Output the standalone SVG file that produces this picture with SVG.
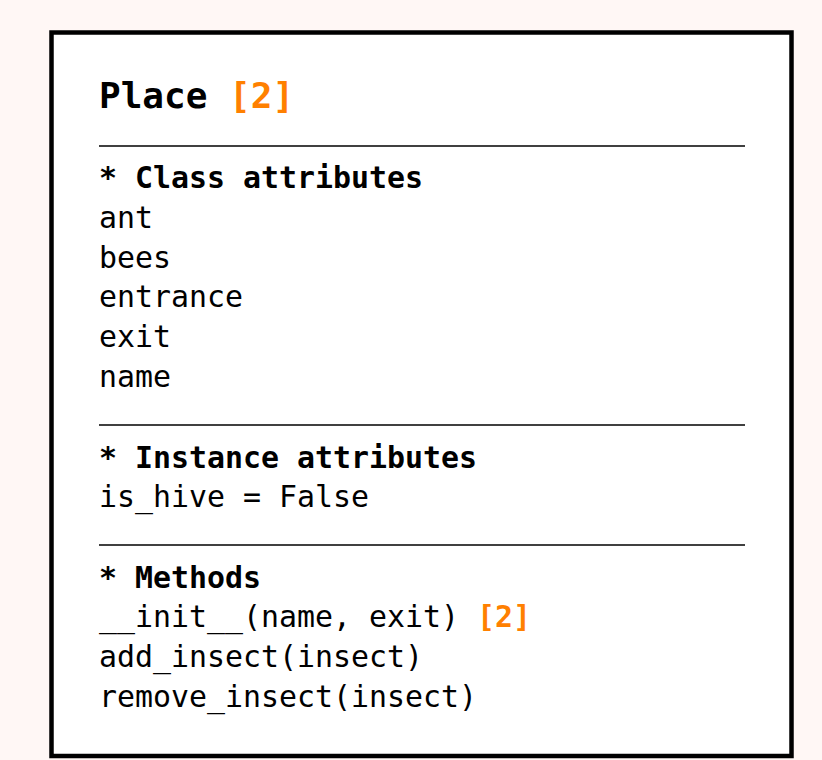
<svg xmlns="http://www.w3.org/2000/svg" width="822" height="760" viewBox="0 0 822 760">
<style>
.t{font-family:"DejaVu Sans Mono","Liberation Mono",monospace;font-size:29.9px;fill:#000}
.b{font-weight:bold}
.title{font-family:"DejaVu Sans Mono","Liberation Mono",monospace;font-size:36px;font-weight:bold;fill:#000}
.o{fill:#ff8000;font-weight:bold}
.hr{stroke:#000;stroke-width:1.3}
</style>
<rect x="0" y="0" width="822" height="760" fill="#fff7f5"/>
<g id="place">
<rect x="51.5" y="32.5" width="740" height="723.5" fill="#fff" stroke="#000" stroke-width="4.5"/>
<text class="title" x="99" y="108">Place <tspan class="o">[2]</tspan></text>
<line class="hr" x1="99" y1="146" x2="745" y2="146"/>
<text class="t b" x="99" y="187.5">* Class attributes</text>
<text class="t" x="99" y="227.5">ant</text>
<text class="t" x="99" y="267.5">bees</text>
<text class="t" x="99" y="307">entrance</text>
<text class="t" x="99" y="346.5">exit</text>
<text class="t" x="99" y="386.5">name</text>
<line class="hr" x1="99" y1="425" x2="745" y2="425"/>
<text class="t b" x="99" y="467.5">* Instance attributes</text>
<text class="t" x="99" y="507">is_hive = False</text>
<line class="hr" x1="99" y1="545" x2="745" y2="545"/>
<text class="t b" x="99" y="587.5">* Methods</text>
<text class="t" x="99" y="627">__init__(name, exit) <tspan class="o">[2]</tspan></text>
<text class="t" x="99" y="666.5">add_insect(insect)</text>
<text class="t" x="99" y="706.5">remove_insect(insect)</text>
</g>
<g id="connectors"/>
</svg>
